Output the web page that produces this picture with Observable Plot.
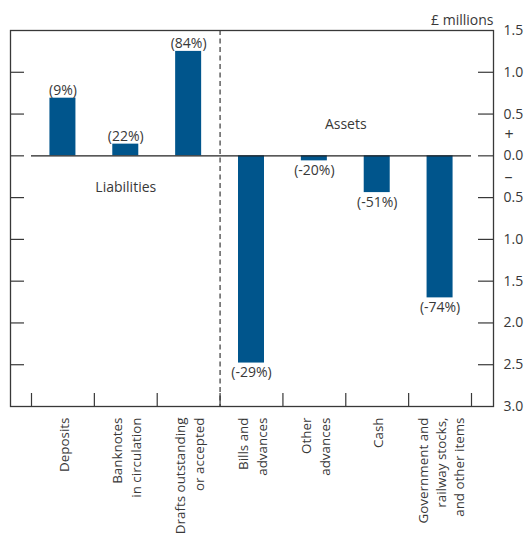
<!DOCTYPE html>
<html>
<head>
<meta charset="utf-8">
<script src="https://cdn.jsdelivr.net/npm/d3@7"></script>
<script src="https://cdn.jsdelivr.net/npm/@observablehq/plot@0.6"></script>
<style>
  html, body { margin: 0; padding: 0; background: #fff; }
  #chart svg { display: block; }
</style>
</head>
<body>
<div id="chart"></div>
<script>
const categories = [
  "Deposits",
  "Banknotes\nin circulation",
  "Drafts outstanding\nor accepted",
  "Bills and\nadvances",
  "Other\nadvances",
  "Cash",
  "Government and\nrailway stocks,\nand other items"
];
const values = [0.69, 0.14, 1.25, -2.48, -0.06, -0.44, -1.70];
const pctLabels = ["(9%)", "(22%)", "(84%)", "(-29%)", "(-20%)", "(-51%)", "(-74%)"];
const yTicks = [1.5, 1.0, 0.5, 0.0, -0.5, -1.0, -1.5, -2.0, -2.5, -3.0];
const innerTicks = [1.0, 0.5, 0.0, -0.5, -1.0, -1.5, -2.0, -2.5];
const liabLabel = {text: "Liabilities", x: "Banknotes\nin circulation", y: -0.38};
const assetLabel = {text: "Assets", x: "Cash", y: 0.37};
const signLabels = [{text: "+", y: 0.25}, {text: "\u2013", y: -0.25}];

const data = categories.map((c, i) => ({cat: c, value: values[i], label: pctLabels[i]}));

const W = 530, H = 538;
const mL = 10, mR = 37, mT = 30, mB = 132;
const inL = 21, inR = 22;
const bw = (W - mL - mR - inL - inR) / categories.length;

const ink = "#383838";
const font = "Open Sans, Noto Sans, sans-serif";
const fs = 14;

const chart = Plot.plot({
  width: W,
  height: H,
  marginLeft: mL,
  marginRight: mR,
  marginTop: mT,
  marginBottom: mB,
  style: {fontFamily: font, fontSize: fs + "px", color: ink, background: "#fff"},
  x: {domain: categories, padding: 0, round: false, insetLeft: inL, insetRight: inR, axis: null},
  y: {domain: [-3, 1.5], axis: null},
  marks: [
    Plot.barY(data, {x: "cat", y: "value", fill: "#00558c", insetLeft: (bw - 26) / 2, insetRight: (bw - 26) / 2}),
    Plot.ruleY([0], {stroke: "#222", strokeWidth: 1.4, insetLeft: inL, insetRight: inR}),
    Plot.ruleY(innerTicks, {stroke: ink, strokeWidth: 1.2, insetRight: W - mL - mR - 14}),
    Plot.ruleY(innerTicks, {stroke: ink, strokeWidth: 1.2, insetLeft: W - mL - mR - 15}),
    Plot.ruleX(categories, {x: d => d, y1: -3, y2: -3, insetTop: -13, dx: -bw / 2, stroke: ink, strokeWidth: 1.2}),
    Plot.ruleX([categories[categories.length - 1]], {x: d => d, y1: -3, y2: -3, insetTop: -13, dx: bw / 2, stroke: ink, strokeWidth: 1.2}),
    Plot.ruleX([categories[3]], {x: d => d, dx: -bw / 2, stroke: ink, strokeWidth: 1.2, strokeDasharray: "5,3.5"}),
    Plot.frame({stroke: ink, strokeWidth: 1.3}),
    Plot.text(data.filter(d => d.value >= 0), {x: "cat", y: "value", text: "label", lineAnchor: "bottom", dy: -3, fill: ink, fontSize: fs}),
    Plot.text(data.filter(d => d.value < 0), {x: "cat", y: "value", text: "label", lineAnchor: "top", dy: 4, fill: ink, fontSize: fs}),
    Plot.text([liabLabel], {x: "x", y: "y", text: "text", fill: ink, fontSize: fs}),
    Plot.text([assetLabel], {x: "x", y: "y", text: "text", dx: -bw / 2, fill: ink, fontSize: fs}),
    Plot.text(categories, {x: d => d, text: d => d, frameAnchor: "bottom", dy: 11, rotate: -90, textAnchor: "end", lineAnchor: "middle", lineHeight: 1.38, fill: ink, fontSize: 13.4}),
    Plot.text(yTicks, {y: d => d, text: d => Math.abs(d).toFixed(1), frameAnchor: "right", textAnchor: "start", dx: 10, fill: ink, fontSize: fs}),
    Plot.text(signLabels, {y: "y", text: "text", frameAnchor: "right", textAnchor: "start", dx: 11, fill: ink, fontSize: 16}),
    Plot.text(["\u00a3 millions"], {frameAnchor: "top-right", textAnchor: "end", lineAnchor: "bottom", dy: -6, fill: ink, fontSize: fs})
  ]
});

document.getElementById("chart").appendChild(chart);
</script>
</body>
</html>
